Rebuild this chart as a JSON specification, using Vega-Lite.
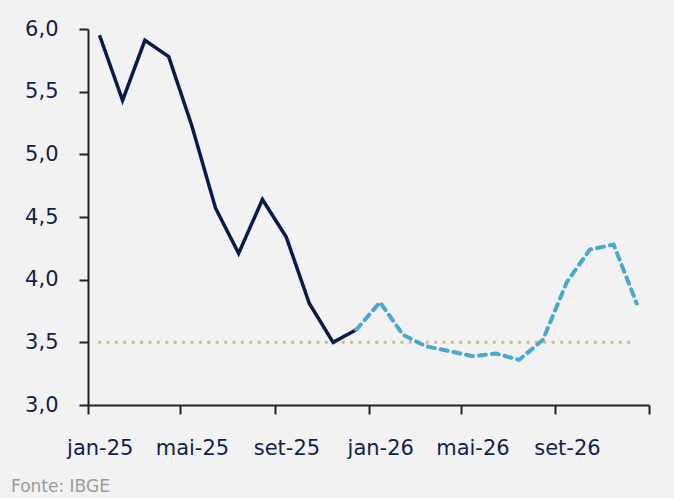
{
  "$schema": "https://vega.github.io/schema/vega-lite/v6.json",
  "width": 561,
  "height": 376,
  "autosize": {"type": "none"},
  "padding": {"left": 88, "top": 29, "right": 25, "bottom": 93},
  "background": "#f2f2f2",
  "config": {
    "view": {"stroke": null}
  },
  "title": {"text": "Fonte: IBGE", "orient": "bottom", "anchor": "start", "frame": "group", "dx": -77, "offset": 21, "fontSize": 17, "font": "DejaVu Sans", "fontWeight": "normal", "color": "#9a9a9a"},
  "datasets": {
    "ipca": [
      {"date": "2025-01-16", "value": 5.95, "serie": "realizado"},
      {"date": "2025-02-15", "value": 5.43, "serie": "realizado"},
      {"date": "2025-03-16", "value": 5.91, "serie": "realizado"},
      {"date": "2025-04-16", "value": 5.78, "serie": "realizado"},
      {"date": "2025-05-16", "value": 5.23, "serie": "realizado"},
      {"date": "2025-06-16", "value": 4.57, "serie": "realizado"},
      {"date": "2025-07-16", "value": 4.21, "serie": "realizado"},
      {"date": "2025-08-16", "value": 4.64, "serie": "realizado"},
      {"date": "2025-09-16", "value": 4.34, "serie": "realizado"},
      {"date": "2025-10-16", "value": 3.81, "serie": "realizado"},
      {"date": "2025-11-16", "value": 3.50, "serie": "realizado"},
      {"date": "2025-12-16", "value": 3.60, "serie": "realizado"},
      {"date": "2025-12-16", "value": 3.60, "serie": "projeção"},
      {"date": "2026-01-16", "value": 3.82, "serie": "projeção"},
      {"date": "2026-02-15", "value": 3.56, "serie": "projeção"},
      {"date": "2026-03-16", "value": 3.47, "serie": "projeção"},
      {"date": "2026-04-16", "value": 3.43, "serie": "projeção"},
      {"date": "2026-05-16", "value": 3.39, "serie": "projeção"},
      {"date": "2026-06-16", "value": 3.41, "serie": "projeção"},
      {"date": "2026-07-16", "value": 3.36, "serie": "projeção"},
      {"date": "2026-08-16", "value": 3.52, "serie": "projeção"},
      {"date": "2026-09-16", "value": 3.98, "serie": "projeção"},
      {"date": "2026-10-16", "value": 4.24, "serie": "projeção"},
      {"date": "2026-11-16", "value": 4.28, "serie": "projeção"},
      {"date": "2026-12-16", "value": 3.81, "serie": "projeção"}
    ],
    "meta": [
      {"date": "2025-01-16", "value": 3.5},
      {"date": "2026-12-16", "value": 3.5}
    ]
  },
  "encoding": {
    "x": {
      "field": "date", "type": "temporal", "title": null,
      "scale": {"type": "utc", "domain": [{"year": 2025, "month": 1, "date": 1, "utc": true}, {"year": 2027, "month": 1, "date": 1, "utc": true}]},
      "axis": {
        "values": [
          {"year": 2025, "month": 1, "date": 1, "utc": true},
          {"year": 2025, "month": 5, "date": 1, "utc": true},
          {"year": 2025, "month": 9, "date": 1, "utc": true},
          {"year": 2026, "month": 1, "date": 1, "utc": true},
          {"year": 2026, "month": 5, "date": 1, "utc": true},
          {"year": 2026, "month": 9, "date": 1, "utc": true},
          {"year": 2027, "month": 1, "date": 1, "utc": true}
        ],
        "labelExpr": "utcyear(datum.value) > 2026 ? '' : ['jan','fev','mar','abr','mai','jun','jul','ago','set','out','nov','dez'][utcmonth(datum.value)] + '-' + utcFormat(datum.value, '%y')",
        "labelOffset": 11.7,
        "labelAlign": "center",
        "labelPadding": 23,
        "labelFlush": false,
        "labelOverlap": false,
        "labelFont": "DejaVu Sans", "labelFontSize": 21, "labelColor": "#14224a",
        "domainColor": "#222222", "tickColor": "#222222", "domainWidth": 2, "tickWidth": 2, "tickSize": 9, "grid": false
      }
    },
    "y": {
      "field": "value", "type": "quantitative", "title": null,
      "scale": {"domain": [3, 6], "nice": false, "zero": false},
      "axis": {
        "values": [3, 3.5, 4, 4.5, 5, 5.5, 6],
        "labelExpr": "replace(format(datum.value, '.1f'), '.', ',')",
        "labelPadding": 21,
        "labelFont": "DejaVu Sans", "labelFontSize": 21, "labelColor": "#14224a",
        "domainColor": "#222222", "tickColor": "#222222", "domainWidth": 2, "tickWidth": 2, "tickSize": 9, "grid": false
      }
    }
  },
  "layer": [
    {
      "data": {"name": "meta"},
      "mark": {"type": "line", "color": "#d2bd86", "strokeWidth": 3.5, "strokeDash": [0.1, 8.3], "strokeCap": "round"}
    },
    {
      "data": {"name": "ipca"},
      "transform": [{"filter": "datum.serie == 'realizado'"}],
      "mark": {"type": "line", "color": "#0b1a48", "strokeWidth": 3.5, "strokeJoin": "miter"}
    },
    {
      "data": {"name": "ipca"},
      "transform": [{"filter": "datum.serie == 'projeção'"}],
      "mark": {"type": "line", "color": "#4aa7cd", "strokeWidth": 4, "strokeDash": [7, 6], "strokeCap": "round"}
    }
  ]
}
